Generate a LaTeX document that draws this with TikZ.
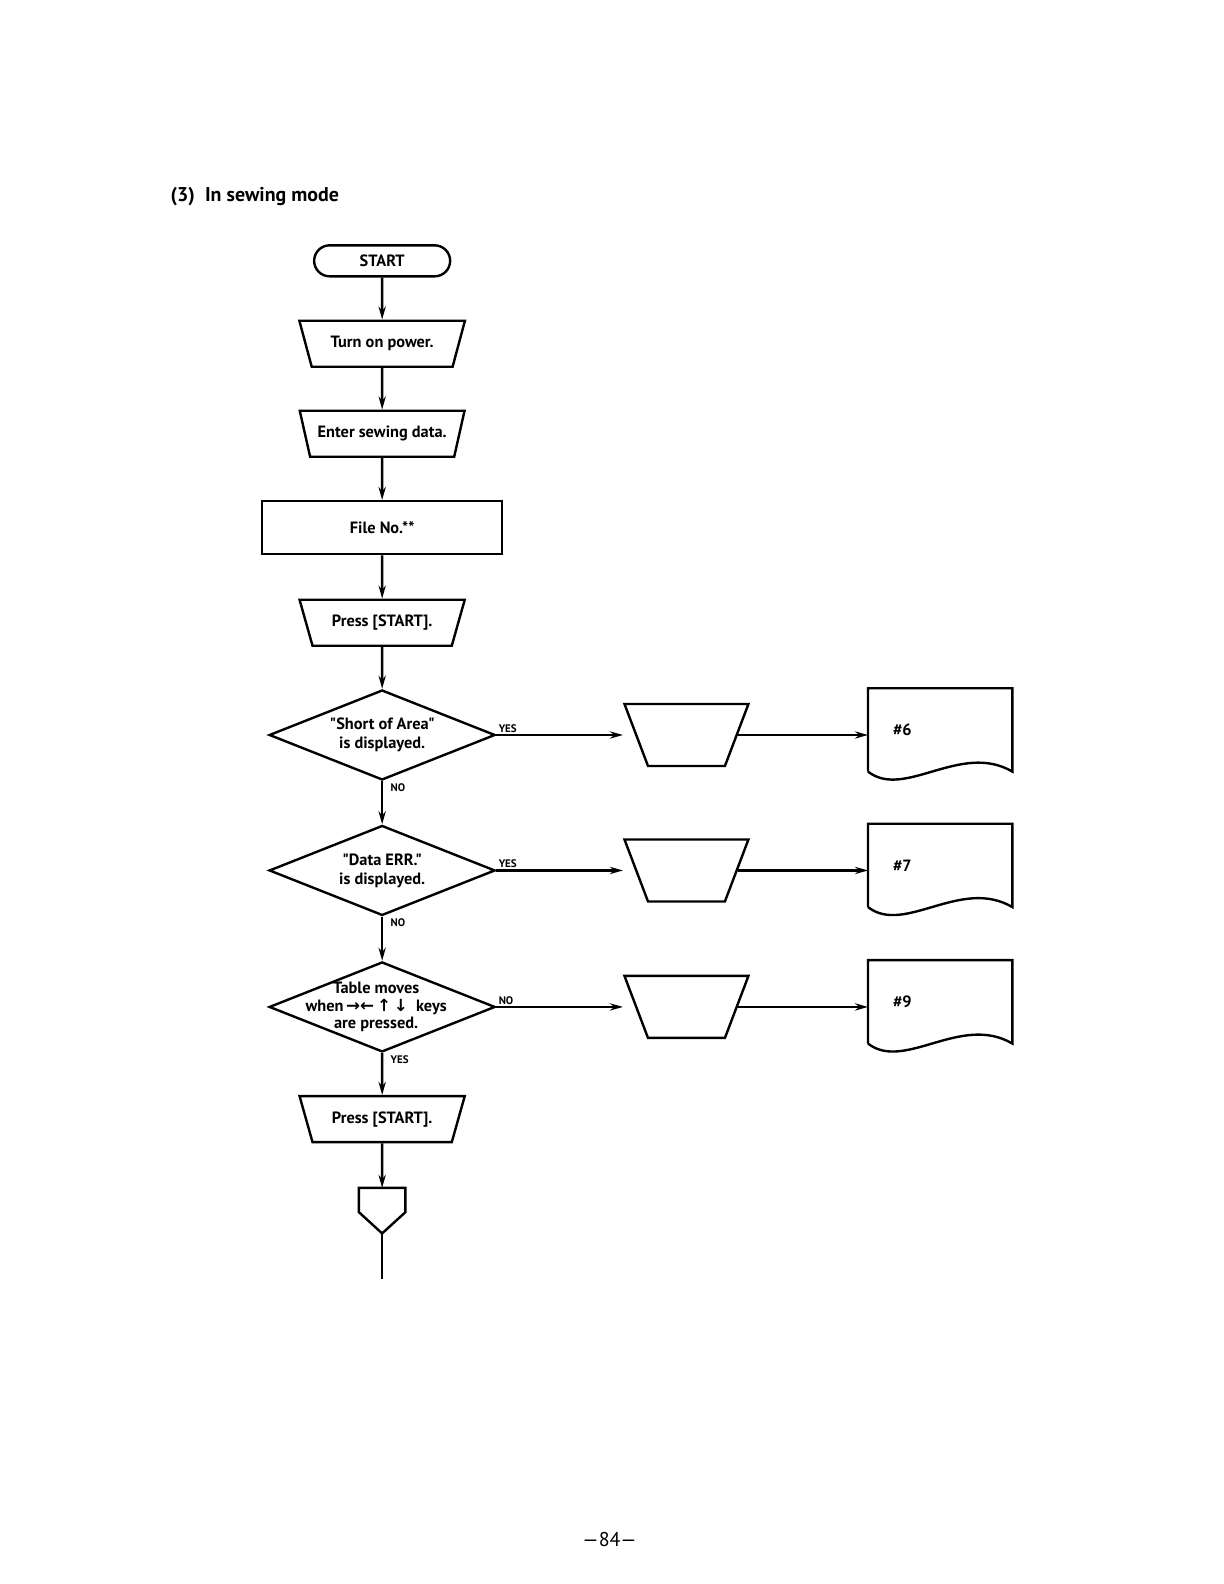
\documentclass[tikz,border=0pt]{standalone}
\usepackage{fontspec}
\setmainfont{PT Sans}[Ligatures=TeXOff]
\newfontfamily\arrowfont{DejaVu Sans}
\usetikzlibrary{positioning, arrows.meta, shapes.geometric, shapes.misc}

\tikzset{
  flow/.style={-{Stealth[length=6.5bp, width=3.6bp]}},
  boxtext/.style={font=\bfseries\fontsize{8.2}{9.5}\selectfont, align=center},
  startbox/.style={rounded rectangle, draw, boxtext, minimum width=68bp, minimum height=15.5bp, inner sep=0pt},
  manual/.style={trapezium, draw, boxtext, trapezium stretches=true, shape border rotate=180,
    trapezium left angle=63.4, trapezium right angle=63.4, minimum width=83bp, minimum height=23bp, inner sep=1bp},
  display/.style={trapezium, draw, trapezium stretches=true, shape border rotate=180,
    trapezium left angle=73, trapezium right angle=73, minimum width=62bp, minimum height=31bp, inner sep=2bp},
  procbox/.style={rectangle, draw, boxtext, minimum width=120bp, minimum height=26.5bp},
  decision/.style={diamond, draw, minimum width=113bp, minimum height=45bp, inner sep=1bp},
  decitext/.style={boxtext, inner sep=0pt},
  docbox/.style={rectangle, boxtext, align=left, text width=47bp, inner xsep=12bp, inner ysep=0pt,
    minimum height=40.5bp},
  tag/.style={font=\bfseries\fontsize{5.5}{6}\selectfont, inner sep=0.6bp}
}

\begin{document}
\begin{tikzpicture}[x=0.5055bp, y=-0.5055bp, line width=1.2bp]
\fill[white] (0,0) rectangle (1210.7,1566.8);
\useasboundingbox (0,0) rectangle (1210.7,1566.8);

% --- Title ---
\node[anchor=west, font=\bfseries\fontsize{10}{12}\selectfont] (title) at (161,194) {(3)\ \ In sewing mode};

% --- Main column ---
\node[startbox] (start) at (378,258) {START};
\node[manual] (power) at (378,340) {Turn on power.};
\node[manual] (enter) at (378,429) {Enter sewing data.};
\node[procbox] (fileno) at (378,522) {File No.**};
\node[manual] (press1) at (378,616) {Press [START].};
\node[decision, label={[decitext]center:{"Short of Area"\\is displayed.}}] (short) at (378,727) {};
\node[decision, label={[decitext]center:{"Data ERR."\\is displayed.}}] (dataerr) at (378,861) {};
\node[decision, label={[decitext, xshift=-3bp, font=\bfseries\fontsize{8.2}{8.6}\selectfont]center:{Table moves\\when\,{\arrowfont\bfseries\fontsize{8.4}{8.6}\selectfont→←\,↑\,↓}\ \ keys\\are pressed.}}] (tablemv) at (378,996) {};
\node[manual] (press2) at (378,1107) {Press [START].};

% Off-page connector
\coordinate (offtop) at (378,1175);
\coordinate (offtip) at (378,1220);
\coordinate (offend) at (378,1265);
\draw (offtop) -- ++(23,0) -- ++(0,24) -- (offtip) -- ++(-23,-21) -- ++(0,-24) -- cycle;
\draw (offtip) -- (offend);

% Main arrows
\draw[flow] (start) -- (power);
\draw[flow] (power) -- (enter);
\draw[flow] (enter) -- (fileno);
\draw[flow] (fileno) -- (press1);
\draw[flow] (press1) -- (short);
\draw[flow] (short) -- (dataerr);
\draw[flow] (dataerr) -- (tablemv);
\draw[flow] (tablemv) -- (press2);
\draw[flow] (press2) -- (offtop);

% Branch labels
\node[tag, anchor=south west] (yesA) at (short.east) {YES};
\node[tag, anchor=north west, xshift=3bp] (noA) at (short.south) {NO};
\node[tag, anchor=south west] (yesB) at (dataerr.east) {YES};
\node[tag, anchor=north west, xshift=3bp] (noB) at (dataerr.south) {NO};
\node[tag, anchor=south west] (noC) at (tablemv.east) {NO};
\node[tag, anchor=north west, xshift=3bp] (yesC) at (tablemv.south) {YES};

% --- Right side: displays and documents ---
\node[display] (dispA) at (679,727) {};
\node[display] (dispB) at (679,861) {};
\node[display] (dispC) at (679,996) {};
\node[docbox] (docA) at (930,722) {\#6};
\node[docbox] (docB) at (930,856) {\#7};
\node[docbox] (docC) at (930,991) {\#9};
\foreach \d in {docA, docB, docC}
  \draw (\d.south west) -- (\d.north west) -- (\d.north east) -- (\d.south east)
    .. controls +(-51,-30) and +(36,28) .. (\d.south west);

\draw[flow, shorten >=6bp] (short.east) -- (dispA);
\draw[flow, shorten >=6bp] (dataerr.east) -- (dispB);
\draw[flow, shorten >=6bp] (tablemv.east) -- (dispC);
\draw[flow] (dispA) -- (dispA -| docA.west);
\draw[flow] (dispB) -- (dispB -| docB.west);
\draw[flow] (dispC) -- (dispC -| docC.west);

% Page number
\node[font=\fontsize{10}{12}\selectfont] (pageno) at (603,1523) {—84—};
\end{tikzpicture}
\end{document}
